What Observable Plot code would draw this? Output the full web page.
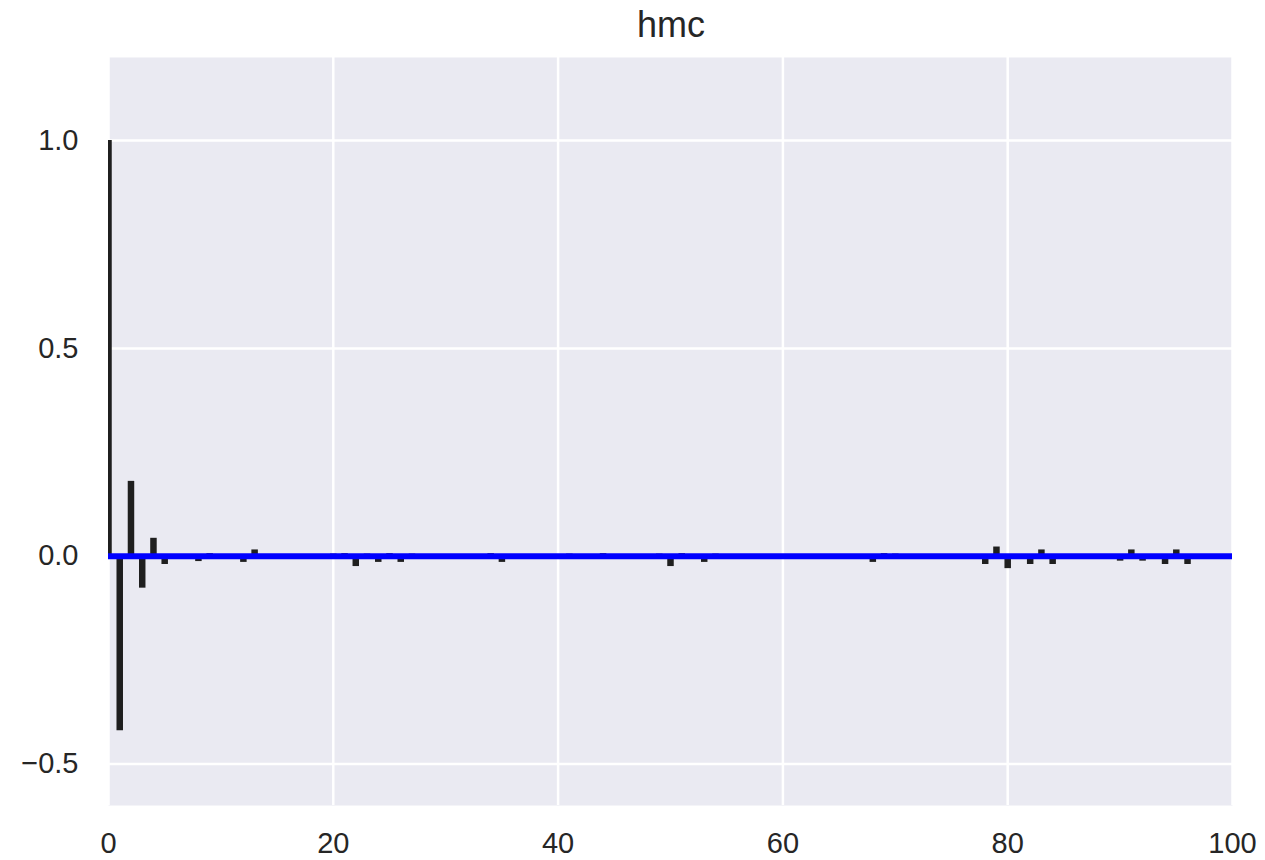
<!DOCTYPE html>
<html>
<head>
<meta charset="utf-8">
<script src="https://cdn.jsdelivr.net/npm/d3@7"></script>
<script src="https://cdn.jsdelivr.net/npm/@observablehq/plot@0.6"></script>
<style>
  body { margin: 0; background: #fff; font-family: "Liberation Sans", Arial, sans-serif; }
  #title { width: 1265px; height: 50px; position: relative; }
  #title span { position: absolute; left: 671px; top: 6.5px; transform: translateX(-50%); font-size: 36px; line-height: 36px; color: #262626; }
</style>
</head>
<body>
<div id="title"><span id="titleText"></span></div>
<div id="chart"></div>
<script>
const chartTitle = "hmc";
const xTicks = [0, 20, 40, 60, 80, 100];
const yTicks = [-0.5, 0.0, 0.5, 1.0];
// autocorrelation value for each lag (index = lag)
const acfValues = [
  1.0, -0.42, 0.18, -0.077, 0.043, -0.02, 0.003, -0.004, -0.013, 0.006,
  -0.003, 0.002, -0.015, 0.015, -0.005, 0.002, -0.003, 0.004, -0.002, -0.006,
  0.005, 0.006, -0.025, 0.005, -0.015, 0.006, -0.015, 0.005, -0.006, 0.002,
  -0.003, 0.003, -0.002, 0.004, 0.006, -0.015, -0.006, 0.003, -0.002, 0.004,
  -0.003, 0.005, 0.003, -0.004, 0.006, 0.002, -0.003, 0.004, -0.002, 0.005,
  -0.025, 0.006, 0.003, -0.015, 0.005, -0.003, 0.004, -0.002, 0.003, -0.004,
  0.002, -0.003, 0.004, -0.002, 0.003, -0.004, 0.002, -0.003, -0.015, 0.006,
  0.005, -0.003, 0.002, -0.004, 0.003, -0.002, 0.004, -0.003, -0.02, 0.022,
  -0.03, -0.004, -0.02, 0.015, -0.02, -0.005, 0.004, -0.005, 0.003, -0.004,
  -0.012, 0.015, -0.012, 0.004, -0.02, 0.015, -0.02, -0.005, 0.004, -0.003
];
const lags = acfValues.map((_, i) => i);
const data = lags.map((lag, i) => ({lag, value: acfValues[i]}));

document.getElementById("titleText").textContent = chartTitle;

const fmtY = d3.format(".1f");

const chart = Plot.plot({
  width: 1265,
  height: 810,
  marginTop: 7,
  marginBottom: 55,
  marginLeft: 108,
  marginRight: 33,
  style: { fontFamily: '"Liberation Sans", Arial, sans-serif', fontSize: "29px", color: "#262626", background: "#fff" },
  x: { domain: [0, 100], ticks: xTicks },
  y: { domain: [-0.6, 1.2], ticks: yTicks },
  marks: [
    Plot.frame({ fill: "#EAEAF2", stroke: null }),
    Plot.gridX(xTicks, { stroke: "#fff", strokeOpacity: 1, strokeWidth: 2.5 }),
    Plot.gridY(yTicks, { stroke: "#fff", strokeOpacity: 1, strokeWidth: 2.5 }),
    Plot.ruleX(data, { x: "lag", y1: 0, y2: "value", stroke: "#1f1f1f", strokeWidth: 6.5, clip: true }),
    Plot.ruleY([0], { stroke: "#0000ff", strokeWidth: 6, clip: true }),
    Plot.axisX(xTicks, { tickSize: 0, tickPadding: 27, label: null, fontSize: 29, fill: "#262626" }),
    Plot.axisY(yTicks, { tickSize: 0, tickPadding: 30, label: null, tickFormat: fmtY, fontSize: 29, fill: "#262626" })
  ]
});
document.getElementById("chart").appendChild(chart);
</script>
</body>
</html>
